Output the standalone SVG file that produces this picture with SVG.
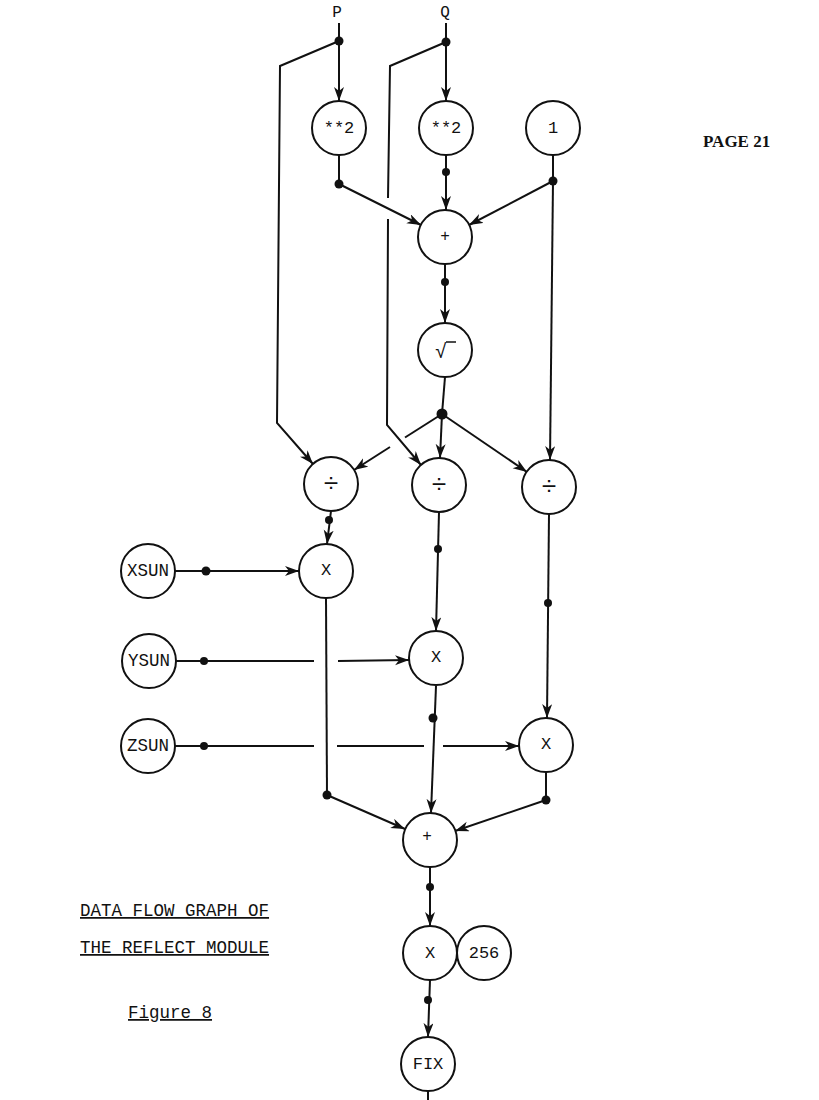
<svg xmlns="http://www.w3.org/2000/svg" width="819" height="1100" viewBox="0 0 819 1100">
<style>
.n circle{fill:#fff;stroke:#111;stroke-width:2}
.t{font-family:"Liberation Mono",monospace;fill:#111;text-anchor:middle;dominant-baseline:central}
#edges line,#edges polyline{stroke:#111;stroke-width:2;fill:none}
.a{marker-end:url(#ah)}
.d{fill:#111}
.cap{font-family:"Liberation Mono",monospace;font-size:17.5px;fill:#111}
</style>
<defs>
<marker id="ah" markerUnits="userSpaceOnUse" markerWidth="16" markerHeight="12" refX="14" refY="5" orient="auto">
<path d="M0,0 L14,5 L0,10 L4,5 z" fill="#111"/>
</marker>
</defs>
<rect width="819" height="1100" fill="#fff"/>
<text x="337" y="13" class="t" font-size="16">P</text>
<text x="445" y="13" class="t" font-size="16">Q</text>
<text x="703" y="147" font-family="Liberation Serif,serif" font-weight="bold" font-size="17" fill="#111">PAGE 21</text>
<g id="edges">
<line class="a" x1="339" y1="23" x2="339" y2="101"/>
<polyline class="a" points="339,41 280,66 277,423 313,464"/>
<line class="a" x1="446" y1="23" x2="446" y2="101"/>
<polyline points="446,42 390,66 388,198"/>
<polyline class="a" points="388,219 387,425 421,465"/>
<line x1="339" y1="155" x2="339" y2="184"/>
<line class="a" x1="339" y1="184" x2="421" y2="225"/>
<line class="a" x1="446" y1="155" x2="446" y2="210"/>
<line x1="553" y1="155" x2="553" y2="181"/>
<line class="a" x1="553" y1="181" x2="469" y2="225"/>
<line class="a" x1="553" y1="181" x2="550" y2="460"/>
<line class="a" x1="445" y1="264" x2="445" y2="323"/>
<line x1="445" y1="377" x2="442" y2="414"/>
<line class="a" x1="442" y1="414" x2="440" y2="458"/>
<line class="a" x1="442" y1="414" x2="527" y2="472"/>
<line x1="442" y1="414" x2="405" y2="437.5"/>
<line class="a" x1="390" y1="447" x2="354" y2="470"/>
<line class="a" x1="331" y1="511" x2="327" y2="544"/>
<line class="a" x1="175" y1="571" x2="299" y2="571"/>
<line class="a" x1="439" y1="512" x2="436" y2="631"/>
<line x1="176" y1="661" x2="314" y2="661"/>
<line class="a" x1="338" y1="661" x2="409" y2="660"/>
<line class="a" x1="549" y1="514" x2="547" y2="718"/>
<line x1="175" y1="746" x2="314" y2="746"/>
<line x1="337" y1="746" x2="424" y2="746"/>
<line class="a" x1="443" y1="746" x2="519" y2="746"/>
<line x1="326" y1="598" x2="327" y2="795"/>
<line class="a" x1="327" y1="795" x2="405" y2="829"/>
<line class="a" x1="436" y1="686" x2="431" y2="813"/>
<line x1="546" y1="772" x2="546" y2="800"/>
<line class="a" x1="546" y1="800" x2="455" y2="831"/>
<line class="a" x1="430" y1="867" x2="430" y2="926"/>
<line class="a" x1="430" y1="980" x2="428" y2="1037"/>
<line x1="428" y1="1091" x2="428" y2="1100"/>
<circle class="d" cx="339" cy="41" r="4.5"/>
<circle class="d" cx="446" cy="42" r="4.5"/>
<circle class="d" cx="339" cy="184" r="4.5"/>
<circle class="d" cx="446" cy="172" r="4"/>
<circle class="d" cx="553" cy="181" r="4.5"/>
<circle class="d" cx="445" cy="282" r="4"/>
<circle class="d" cx="442" cy="414" r="5.5"/>
<circle class="d" cx="329" cy="520" r="4"/>
<circle class="d" cx="206" cy="571" r="4.5"/>
<circle class="d" cx="438" cy="549" r="4"/>
<circle class="d" cx="204" cy="661" r="4"/>
<circle class="d" cx="548" cy="603" r="4"/>
<circle class="d" cx="204" cy="746" r="4"/>
<circle class="d" cx="327" cy="795" r="4.5"/>
<circle class="d" cx="433" cy="718" r="4.5"/>
<circle class="d" cx="546" cy="800" r="4.5"/>
<circle class="d" cx="430" cy="887" r="4"/>
<circle class="d" cx="428" cy="1000" r="4"/>
</g>
<g id="sq1" class="n"><circle cx="339" cy="128" r="27"/><text x="339" y="128" class="t" font-size="17">**2</text></g>
<g id="sq2" class="n"><circle cx="446" cy="128" r="27"/><text x="446" y="128" class="t" font-size="17">**2</text></g>
<g id="one" class="n"><circle cx="553" cy="128" r="27"/><text x="553" y="128" class="t" font-size="17">1</text></g>
<g id="plus1" class="n"><circle cx="445" cy="237" r="27"/><text x="445" y="237" class="t" font-size="16">+</text></g>
<g id="sqrt" class="n"><circle cx="445" cy="350" r="27"/><text x="441" y="352" class="t" font-size="20">√</text><line x1="446" y1="342" x2="456" y2="342" stroke="#111" stroke-width="1.5"/></g>
<g id="div1" class="n"><circle cx="331" cy="484" r="27"/><text x="331" y="485" class="t" font-size="26">÷</text></g>
<g id="div2" class="n"><circle cx="439" cy="485" r="27"/><text x="439" y="486" class="t" font-size="26">÷</text></g>
<g id="div3" class="n"><circle cx="549" cy="487" r="27"/><text x="549" y="488" class="t" font-size="26">÷</text></g>
<g id="x1" class="n"><circle cx="326" cy="571" r="27"/><text x="326" y="570" class="t" font-size="17">X</text></g>
<g id="xsun" class="n"><circle cx="148" cy="571" r="27"/><text x="148" y="571" class="t" font-size="17.5">XSUN</text></g>
<g id="x2" class="n"><circle cx="436" cy="658" r="27"/><text x="436" y="657" class="t" font-size="17">X</text></g>
<g id="ysun" class="n"><circle cx="149" cy="661" r="27"/><text x="149" y="661" class="t" font-size="17.5">YSUN</text></g>
<g id="x3" class="n"><circle cx="546" cy="745" r="27"/><text x="546" y="744" class="t" font-size="17">X</text></g>
<g id="zsun" class="n"><circle cx="148" cy="746" r="27"/><text x="148" y="746" class="t" font-size="17.5">ZSUN</text></g>
<g id="plus2" class="n"><circle cx="430" cy="840" r="27"/><text x="427" y="837" class="t" font-size="16">+</text></g>
<g id="x4" class="n"><circle cx="430" cy="953" r="27"/><text x="430" y="953" class="t" font-size="17">X</text></g>
<g id="c256" class="n"><circle cx="484" cy="953" r="27"/><text x="484" y="953" class="t" font-size="17">256</text></g>
<g id="fix" class="n"><circle cx="428" cy="1064" r="27"/><text x="428" y="1064" class="t" font-size="17">FIX</text></g>
<g id="caption">
<text x="80" y="916" class="cap" text-decoration="underline">DATA FLOW GRAPH OF</text>
<text x="80" y="953" class="cap" text-decoration="underline">THE REFLECT MODULE</text>
<text x="128" y="1018" class="cap" text-decoration="underline">Figure 8</text>
</g>
</svg>
